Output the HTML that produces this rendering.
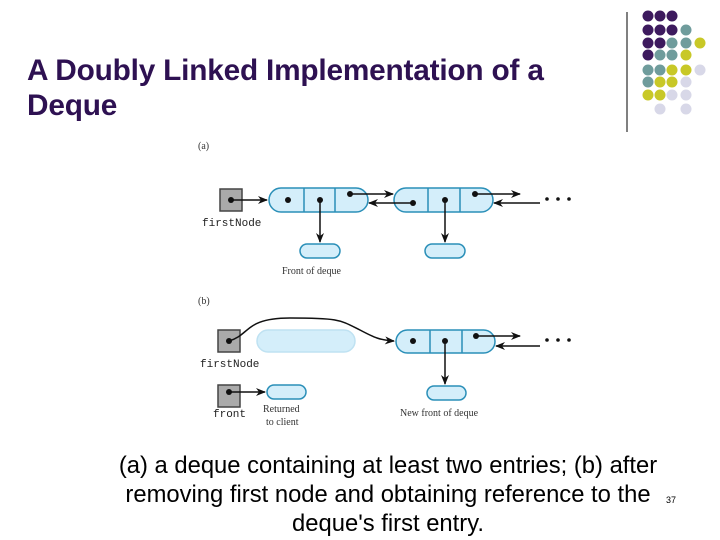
<!DOCTYPE html>
<html><head><style>
body{margin:0;width:720px;height:540px;background:#fff;position:relative;overflow:hidden;font-family:"Liberation Sans",sans-serif}
.t{position:absolute;left:27px;top:53px;font-size:29.8px;font-weight:bold;color:#2e1152;line-height:35px;white-space:nowrap;letter-spacing:-0.2px}
.c{position:absolute;left:88px;width:600px;top:451px;text-align:center;font-size:23.8px;line-height:29px;color:#000;white-space:nowrap}
.n{position:absolute;left:666px;top:495px;font-size:9px}
</style></head><body>
<div class="t">A Doubly Linked Implementation of a<br>Deque</div>
<svg width="720" height="540" style="position:absolute;left:0;top:0">
<defs><marker id="a" markerWidth="10" markerHeight="8" refX="9" refY="4" orient="auto" markerUnits="userSpaceOnUse"><path d="M0,0 L10,4 L0,8 L3,4z" fill="#111"/></marker></defs>
<line x1="627" y1="12" x2="627" y2="132" stroke="#000"/>
<g>
<circle cx="648" cy="16" r="5.5" fill="#3d1a5e"/><circle cx="660" cy="16" r="5.5" fill="#3d1a5e"/><circle cx="672" cy="16" r="5.5" fill="#3d1a5e"/>
<circle cx="648" cy="30" r="5.5" fill="#3d1a5e"/><circle cx="660" cy="30" r="5.5" fill="#3d1a5e"/><circle cx="672" cy="30" r="5.5" fill="#3d1a5e"/><circle cx="686" cy="30" r="5.5" fill="#6f9c9c"/>
<circle cx="648" cy="43" r="5.5" fill="#3d1a5e"/><circle cx="660" cy="43" r="5.5" fill="#3d1a5e"/><circle cx="672" cy="43" r="5.5" fill="#6f9c9c"/><circle cx="686" cy="43" r="5.5" fill="#6f9c9c"/><circle cx="700" cy="43" r="5.5" fill="#c8c827"/>
<circle cx="648" cy="55" r="5.5" fill="#3d1a5e"/><circle cx="660" cy="55" r="5.5" fill="#6f9c9c"/><circle cx="672" cy="55" r="5.5" fill="#6f9c9c"/><circle cx="686" cy="55" r="5.5" fill="#c8c827"/>
<circle cx="648" cy="70" r="5.5" fill="#6f9c9c"/><circle cx="660" cy="70" r="5.5" fill="#6f9c9c"/><circle cx="672" cy="70" r="5.5" fill="#c8c827"/><circle cx="686" cy="70" r="5.5" fill="#c8c827"/><circle cx="700" cy="70" r="5.5" fill="#d8d8e8"/>
<circle cx="648" cy="82" r="5.5" fill="#6f9c9c"/><circle cx="660" cy="82" r="5.5" fill="#c8c827"/><circle cx="672" cy="82" r="5.5" fill="#c8c827"/><circle cx="686" cy="82" r="5.5" fill="#d8d8e8"/>
<circle cx="648" cy="95" r="5.5" fill="#c8c827"/><circle cx="660" cy="95" r="5.5" fill="#c8c827"/><circle cx="672" cy="95" r="5.5" fill="#d8d8e8"/><circle cx="686" cy="95" r="5.5" fill="#d8d8e8"/>
<circle cx="660" cy="109" r="5.5" fill="#d8d8e8"/><circle cx="686" cy="109" r="5.5" fill="#d8d8e8"/>
</g>
<g font-family="Liberation Serif,serif" font-size="10" fill="#333">
<text x="198" y="149">(a)</text><text x="198" y="304">(b)</text>
<text x="282" y="274">Front of deque</text>
<text x="400" y="416">New front of deque</text>
<text x="263" y="412">Returned</text><text x="266" y="425">to client</text>
</g>
<g font-family="Liberation Mono,monospace" font-size="11" fill="#222">
<text x="202" y="226">firstNode</text><text x="200" y="367">firstNode</text><text x="213" y="417">front</text>
</g>
<g stroke="#2a8fb8" stroke-width="1.5" fill="#d4eefa">
<rect x="220" y="189" width="22" height="22" fill="#aaa" stroke="#444"/>
<rect x="269" y="188" width="99" height="24" rx="12"/><line x1="304" y1="188" x2="304" y2="212"/><line x1="335" y1="188" x2="335" y2="212"/>
<rect x="394" y="188" width="99" height="24" rx="12"/><line x1="428" y1="188" x2="428" y2="212"/><line x1="460" y1="188" x2="460" y2="212"/>
<rect x="300" y="244" width="40" height="14" rx="7"/><rect x="425" y="244" width="40" height="14" rx="7"/>
<rect x="218" y="330" width="22" height="22" fill="#aaa" stroke="#444"/>
<rect x="257" y="330" width="98" height="22" rx="11" stroke="#bfe2f2"/>
<rect x="396" y="330" width="99" height="23" rx="11.5"/><line x1="430" y1="330" x2="430" y2="353"/><line x1="462" y1="330" x2="462" y2="353"/>
<rect x="427" y="386" width="39" height="14" rx="7"/>
<rect x="218" y="385" width="22" height="22" fill="#aaa" stroke="#444"/>
<rect x="267" y="385" width="39" height="14" rx="7"/>
</g>
<g fill="#111">
<circle cx="231" cy="200" r="3"/><circle cx="288" cy="200" r="3"/><circle cx="320" cy="200" r="3"/><circle cx="350" cy="194" r="3"/>
<circle cx="413" cy="203" r="3"/><circle cx="445" cy="200" r="3"/><circle cx="475" cy="194" r="3"/>
<circle cx="547" cy="199" r="1.8"/><circle cx="558" cy="199" r="1.8"/><circle cx="569" cy="199" r="1.8"/>
<circle cx="229" cy="341" r="3"/><circle cx="413" cy="341" r="3"/><circle cx="445" cy="341" r="3"/><circle cx="476" cy="336" r="3"/>
<circle cx="547" cy="340" r="1.8"/><circle cx="558" cy="340" r="1.8"/><circle cx="569" cy="340" r="1.8"/>
<circle cx="229" cy="392" r="3"/>
</g>
<g stroke="#111" stroke-width="1.5" fill="none" marker-end="url(#a)">
<line x1="231" y1="200" x2="267" y2="200"/>
<line x1="350" y1="194" x2="393" y2="194"/><line x1="413" y1="203" x2="369" y2="203"/>
<line x1="475" y1="194" x2="520" y2="194"/><line x1="540" y1="203" x2="494" y2="203"/>
<line x1="320" y1="200" x2="320" y2="242"/><line x1="445" y1="200" x2="445" y2="242"/>
<path d="M229,341 C250,335 245,318 290,318 C340,318 340,320 360,330 C375,338 380,340 394,341"/>
<line x1="476" y1="336" x2="520" y2="336"/><line x1="540" y1="346" x2="496" y2="346"/>
<line x1="445" y1="341" x2="445" y2="384"/>
<line x1="229" y1="392" x2="265" y2="392"/>
</g>
</svg>
<div class="c">(a) a deque containing at least two entries; (b) after<br>removing first node and obtaining reference to the<br>deque's first entry.</div>
<div class="n">37</div>
</body></html>
